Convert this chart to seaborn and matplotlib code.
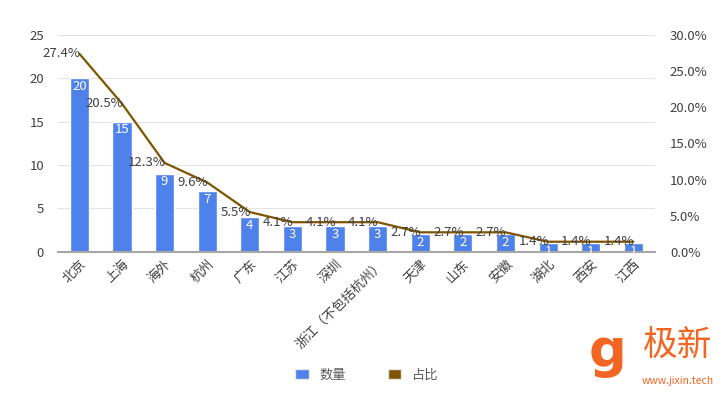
import numpy as np
import pandas as pd
import matplotlib
matplotlib.use("Agg")
import matplotlib.pyplot as plt
from matplotlib.patches import Patch
from matplotlib.ticker import FuncFormatter
import seaborn as sns

## data
cities = ["北京", "上海", "海外", "杭州", "广东", "江苏", "深圳", "浙江（不包括杭州）",
          "天津", "山东", "安徽", "湖北", "西安", "江西"]
counts = [20, 15, 9, 7, 4, 3, 3, 3, 2, 2, 2, 1, 1, 1]
shares = [27.4, 20.5, 12.3, 9.6, 5.5, 4.1, 4.1, 4.1, 2.7, 2.7, 2.7, 1.4, 1.4, 1.4]

bar_color = "#4F81EA"
line_color = "#7F5500"
text_color = "#404040"
fs = 9.5

sns.set_theme(style="white")
plt.rcParams['font.family'] = ['Noto Sans CJK SC', 'DejaVu Sans']

df = pd.DataFrame({"city": cities, "count": counts, "share": shares})

fig = plt.figure(figsize=(7.25, 3.96), dpi=100)
ax = fig.add_axes([0.08, 0.364, 0.823, 0.548])

sns.barplot(data=df, x="city", y="count", color=bar_color, width=0.45,
            saturation=1, ax=ax)
ax.set_ylim(0, 25)
ax.set_yticks(range(0, 26, 5))
ax.set_xlim(-0.5, len(cities) - 0.5)
ax.yaxis.grid(True, color="#E3E3E3", linewidth=0.8)
ax.set_axisbelow(True)
for s in ["top", "right", "left"]:
    ax.spines[s].set_visible(False)
ax.spines["bottom"].set_color("#A6A6A6")
ax.spines["bottom"].set_linewidth(1.5)
ax.set_xlabel("")
ax.set_ylabel("")
ax.tick_params(axis="both", length=0, labelsize=fs, colors=text_color)
ax.tick_params(axis="y", pad=10)
ax.tick_params(axis="x", pad=4)
plt.setp(ax.get_xticklabels(), rotation=45, ha="right", rotation_mode="anchor")

# bar labels (white, inside top)
for i, v in enumerate(counts):
    ax.text(i, v - 0.2, str(v), ha="center", va="top", color="white", fontsize=fs)

# share line on right axis
ax2 = ax.twinx()
sns.lineplot(x=np.arange(len(cities)), y=shares, color=line_color, linewidth=1.6, ax=ax2)
ax2.set_ylim(0, 30)
ax2.set_yticks(range(0, 31, 5))
ax2.yaxis.set_major_formatter(FuncFormatter(lambda v, p: f"{v:.1f}%"))
ax2.tick_params(axis="y", length=0, labelsize=fs, colors=text_color, pad=11)
for s in ["top", "right", "left", "bottom"]:
    ax2.spines[s].set_visible(False)
ax2.set_ylabel("")
for i, v in enumerate(shares):
    ax2.text(i + 0.02, v, f"{v}%", ha="right", va="center", color=text_color, fontsize=fs)

# legend
handles = [Patch(facecolor=bar_color, edgecolor="#E8E8E8"),
           Patch(facecolor=line_color, edgecolor="#E8E8E8")]
fig.legend(handles, ["数量", "占比"], loc="center", bbox_to_anchor=(0.506, 0.052),
           ncol=2, frameon=False, fontsize=fs, handlelength=1.0, handleheight=0.8,
           columnspacing=3.2, labelcolor="#595959")

# watermark
fig.text(0.838, 0.11, "g", color="#F26522", fontsize=38, fontweight="bold",
         ha="center", va="center", family=["DejaVu Sans"])
fig.text(0.935, 0.125, "极新", color="#F26522", fontsize=25, ha="center", va="center")
fig.text(0.935, 0.038, "www.jixin.tech", color="#F26522", fontsize=7.5,
         ha="center", va="center")

plt.savefig("out.png", dpi=100)
